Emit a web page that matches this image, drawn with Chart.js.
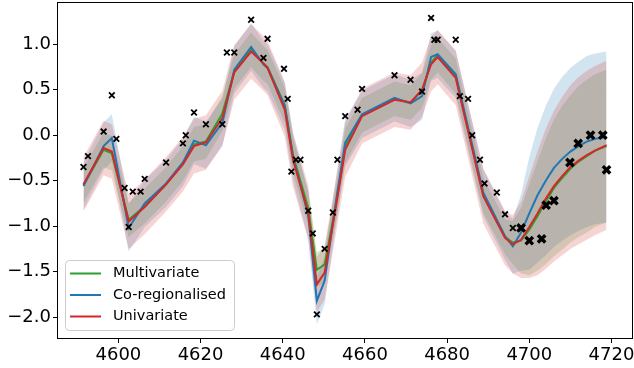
<!DOCTYPE html>
<html>
<head>
<meta charset="utf-8">
<script src="https://cdn.jsdelivr.net/npm/chart.js@4/dist/chart.umd.min.js"></script>
<style>
  html, body { margin: 0; padding: 0; background: #fff; }
  #wrap { width: 634px; height: 368px; }
</style>
</head>
<body>
<div id="wrap"><canvas id="chart" width="634" height="368"></canvas></div>
<script>
/* ===== DATA ===== */
const xTicks = [4600, 4620, 4640, 4660, 4680, 4700, 4720];
const yTicks = [-2.0, -1.5, -1.0, -0.5, 0.0, 0.5, 1.0];

// x positions where the predicted means are drawn
const xLine = [4591.5, 4596.4, 4598.4, 4602.5, 4606.4, 4611.6, 4615.7, 4618.4, 4621.3, 4625.3,
  4628.2, 4632.3, 4635.3, 4636.3, 4640.5, 4642.5, 4646.2, 4648.3, 4650.2, 4653.1,
  4655.2, 4659.3, 4667.2, 4671.1, 4673.9, 4676.1, 4677.7, 4682.1, 4688.8, 4694.1,
  4696.0, 4698.0, 4700.0, 4702.0, 4704.0, 4706.0, 4708.0, 4710.0, 4712.0, 4714.0,
  4716.0, 4718.8];

const multiMean = [-0.55, -0.16, -0.20, -0.93, -0.78, -0.54, -0.31, -0.10, -0.07, 0.24,
  0.70, 0.94, 0.79, 0.75, 0.33, -0.22, -0.80, -1.48, -1.42, -0.72,
  -0.12, 0.22, 0.40, 0.36, 0.49, 0.80, 0.88, 0.65, -0.66, -1.12,
  -1.18, -1.16, -1.04, -0.89, -0.73, -0.58, -0.47, -0.37, -0.29, -0.23,
  -0.17, -0.12];
const coMean = [-0.56, -0.12, -0.03, -1.02, -0.75, -0.53, -0.30, -0.06, -0.11, 0.14,
  0.72, 0.97, 0.78, 0.74, 0.32, -0.24, -0.88, -1.82, -1.60, -0.68,
  -0.08, 0.23, 0.41, 0.35, 0.43, 0.86, 0.89, 0.67, -0.63, -1.11,
  -1.22, -1.07, -0.86, -0.66, -0.50, -0.36, -0.26, -0.18, -0.12, -0.07,
  -0.04, -0.02];
const uniMean = [-0.54, -0.14, -0.18, -0.95, -0.79, -0.54, -0.32, -0.12, -0.08, 0.19,
  0.69, 0.92, 0.79, 0.74, 0.28, -0.27, -0.85, -1.64, -1.51, -0.74,
  -0.16, 0.21, 0.39, 0.36, 0.50, 0.78, 0.86, 0.63, -0.67, -1.13,
  -1.20, -1.15, -1.01, -0.86, -0.70, -0.56, -0.45, -0.35, -0.28, -0.22,
  -0.17, -0.11];

// half widths of the shaded bands
const multiWidth = [0.19, 0.19, 0.19, 0.19, 0.19, 0.19, 0.19, 0.19, 0.19, 0.19,
  0.19, 0.19, 0.19, 0.19, 0.19, 0.19, 0.19, 0.19, 0.19, 0.19,
  0.19, 0.19, 0.19, 0.19, 0.19, 0.19, 0.19, 0.19, 0.19, 0.19,
  0.24, 0.36, 0.50, 0.60, 0.69, 0.75, 0.79, 0.81, 0.83, 0.84,
  0.84, 0.84];
const coWidth = [0.26, 0.26, 0.26, 0.26, 0.26, 0.26, 0.26, 0.26, 0.26, 0.26,
  0.26, 0.26, 0.26, 0.26, 0.26, 0.26, 0.26, 0.26, 0.26, 0.26,
  0.26, 0.26, 0.26, 0.26, 0.26, 0.26, 0.26, 0.26, 0.26, 0.26,
  0.30, 0.42, 0.62, 0.74, 0.82, 0.87, 0.90, 0.92, 0.93, 0.94,
  0.94, 0.94];
const uniWidth = [0.30, 0.30, 0.30, 0.30, 0.30, 0.30, 0.30, 0.30, 0.30, 0.30,
  0.30, 0.30, 0.30, 0.30, 0.30, 0.30, 0.30, 0.30, 0.30, 0.30,
  0.30, 0.30, 0.30, 0.30, 0.30, 0.30, 0.30, 0.30, 0.30, 0.30,
  0.32, 0.42, 0.56, 0.68, 0.77, 0.83, 0.87, 0.90, 0.92, 0.93,
  0.93, 0.93];

// observed points
const trainX = [4591.5, 4592.6, 4596.4, 4598.4, 4599.5, 4601.5, 4602.5, 4603.5, 4605.4, 4606.4,
  4611.6, 4615.7, 4616.4, 4618.4, 4621.3, 4625.3, 4626.4, 4628.2, 4632.3, 4635.3,
  4636.3, 4640.3, 4641.2, 4642.1, 4643.2, 4644.3, 4646.2, 4647.3, 4648.3, 4650.2,
  4652.2, 4653.3, 4655.2, 4658.2, 4659.3, 4667.2, 4671.1, 4673.9, 4676.1, 4676.9,
  4677.7, 4682.1, 4683.1, 4685.1, 4686.1, 4688.0, 4689.1, 4692.1, 4694.1, 4696.0];
const trainY = [-0.35, -0.23, 0.04, 0.44, -0.04, -0.58, -1.01, -0.62, -0.62, -0.48,
  -0.30, -0.09, 0.00, 0.25, 0.12, 0.12, 0.91, 0.91, 1.27, 0.85,
  1.06, 0.73, 0.40, -0.40, -0.27, -0.27, -0.83, -1.08, -1.97, -1.25,
  -0.85, -0.27, 0.21, 0.28, 0.51, 0.66, 0.61, 0.48, 1.29, 1.05,
  1.05, 1.05, 0.43, 0.40, 0.00, -0.27, -0.53, -0.63, -0.87, -1.02];

// held-out points
const testX = [4698.0, 4700.0, 4703.0, 4704.1, 4706.0, 4709.9, 4711.9, 4714.9, 4717.9, 4718.8];
const testY = [-1.02, -1.16, -1.14, -0.77, -0.72, -0.30, -0.09, 0.00, 0.00, -0.38];

/* ===== SERIES ===== */
const series = [
  { label: "Multivariate", mean: multiMean, width: multiWidth, color: "#2ca02c", shade: "rgba(44,160,44,0.2)" },
  { label: "Co-regionalised", mean: coMean, width: coWidth, color: "#1f77b4", shade: "rgba(31,119,180,0.2)" },
  { label: "Univariate", mean: uniMean, width: uniWidth, color: "#d62728", shade: "rgba(214,39,40,0.2)" }
];

function pts(xs, ys) {
  return xs.map((x, i) => ({ x: x, y: ys[i] }));
}

function bandPts(s, sign) {
  return xLine.map((x, i) => ({ x: x, y: s.mean[i] + sign * s.width[i] }));
}

const datasets = [];
let order = 100;

// shaded bands first (drawn bottom-up: green, blue, red)
series.forEach(s => {
  const low = datasets.length;
  datasets.push({ data: bandPts(s, -1), borderWidth: 0, borderColor: "transparent",
    pointRadius: 0, fill: false, order: order-- });
  datasets.push({ data: bandPts(s, 1), borderWidth: 0, borderColor: "transparent",
    pointRadius: 0, fill: low, backgroundColor: s.shade, order: order-- });
});

// mean lines
order = 50;
series.forEach(s => {
  datasets.push({ data: pts(xLine, s.mean), borderColor: s.color, borderWidth: 2,
    pointRadius: 0, fill: false, tension: 0, order: order-- });
});

// markers
datasets.push({ data: pts(trainX, trainY), showLine: false, fill: false,
  pointStyle: "crossRot", pointRadius: 4, pointBorderWidth: 1.8,
  pointBorderColor: "#000", pointBackgroundColor: "#000", order: 10 });
datasets.push({ data: pts(testX, testY), showLine: false, fill: false,
  pointStyle: "crossRot", pointRadius: 5.2, pointBorderWidth: 3.4,
  pointBorderColor: "#000", pointBackgroundColor: "#000", order: 9 });

/* ===== PLUGINS ===== */
const frame = {
  id: "frame",
  afterDatasetsDraw(chart) {
    const a = chart.chartArea;
    const ctx = chart.ctx;
    ctx.save();
    ctx.strokeStyle = "#000";
    ctx.lineWidth = 1;
    ctx.strokeRect(a.left - 0.5, a.top - 0.5, a.right - a.left + 1, a.bottom - a.top + 1);
    ctx.restore();
  }
};

const legendBox = {
  id: "legendBox",
  afterDraw(chart) {
    const ctx = chart.ctx;
    const x = 65.5, y = 260.5, w = 169, h = 70, r = 4;
    ctx.save();
    ctx.beginPath();
    ctx.moveTo(x + r, y);
    ctx.lineTo(x + w - r, y);
    ctx.arcTo(x + w, y, x + w, y + r, r);
    ctx.lineTo(x + w, y + h - r);
    ctx.arcTo(x + w, y + h, x + w - r, y + h, r);
    ctx.lineTo(x + r, y + h);
    ctx.arcTo(x, y + h, x, y + h - r, r);
    ctx.lineTo(x, y + r);
    ctx.arcTo(x, y, x + r, y, r);
    ctx.closePath();
    ctx.fillStyle = "rgba(255,255,255,0.8)";
    ctx.fill();
    ctx.strokeStyle = "#cccccc";
    ctx.lineWidth = 1;
    ctx.stroke();

    ctx.font = "14.5px 'DejaVu Sans'";
    ctx.textBaseline = "middle";
    series.forEach((s, i) => {
      const cy = 273.5 + i * 21.5;
      ctx.strokeStyle = s.color;
      ctx.lineWidth = 2;
      ctx.beginPath();
      ctx.moveTo(70, cy);
      ctx.lineTo(101, cy);
      ctx.stroke();
      ctx.fillStyle = "#000";
      ctx.fillText(s.label, 113, cy);
    });
    ctx.restore();
  }
};

/* ===== CHART ===== */
const tickFont = { family: "'DejaVu Sans'", size: 18 };

new Chart(document.getElementById("chart"), {
  type: "line",
  data: { datasets: datasets },
  options: {
    responsive: false,
    animation: false,
    events: [],
    layout: { autoPadding: false, padding: { left: 0, right: 2, top: 3, bottom: 0 } },
    plugins: {
      legend: { display: false },
      tooltip: { enabled: false },
      filler: { drawTime: "beforeDatasetsDraw" }
    },
    scales: {
      x: {
        type: "linear",
        min: 4585.3,
        max: 4725,
        afterBuildTicks: sc => { sc.ticks = xTicks.map(v => ({ value: v })); },
        afterFit: sc => {
          sc.height = 30;
          sc.paddingLeft = 0;
          sc.paddingRight = 0;
        },
        ticks: { font: tickFont, color: "#000", padding: 2, maxRotation: 0,
          callback: v => String(v) },
        grid: { drawOnChartArea: false, drawTicks: true, tickLength: 5, color: "#000" },
        border: { display: false }
      },
      y: {
        type: "linear",
        min: -2.23,
        max: 1.454,
        afterBuildTicks: sc => { sc.ticks = yTicks.map(v => ({ value: v })); },
        afterFit: sc => {
          sc.width = 58;
          sc.paddingTop = 0;
          sc.paddingBottom = 0;
        },
        ticks: { font: tickFont, color: "#000", padding: 2,
          callback: v => v.toFixed(1).replace("-", "\u2212") },
        grid: { drawOnChartArea: false, drawTicks: true, tickLength: 5, color: "#000" },
        border: { display: false }
      }
    }
  },
  plugins: [frame, legendBox]
});
</script>
</body>
</html>
